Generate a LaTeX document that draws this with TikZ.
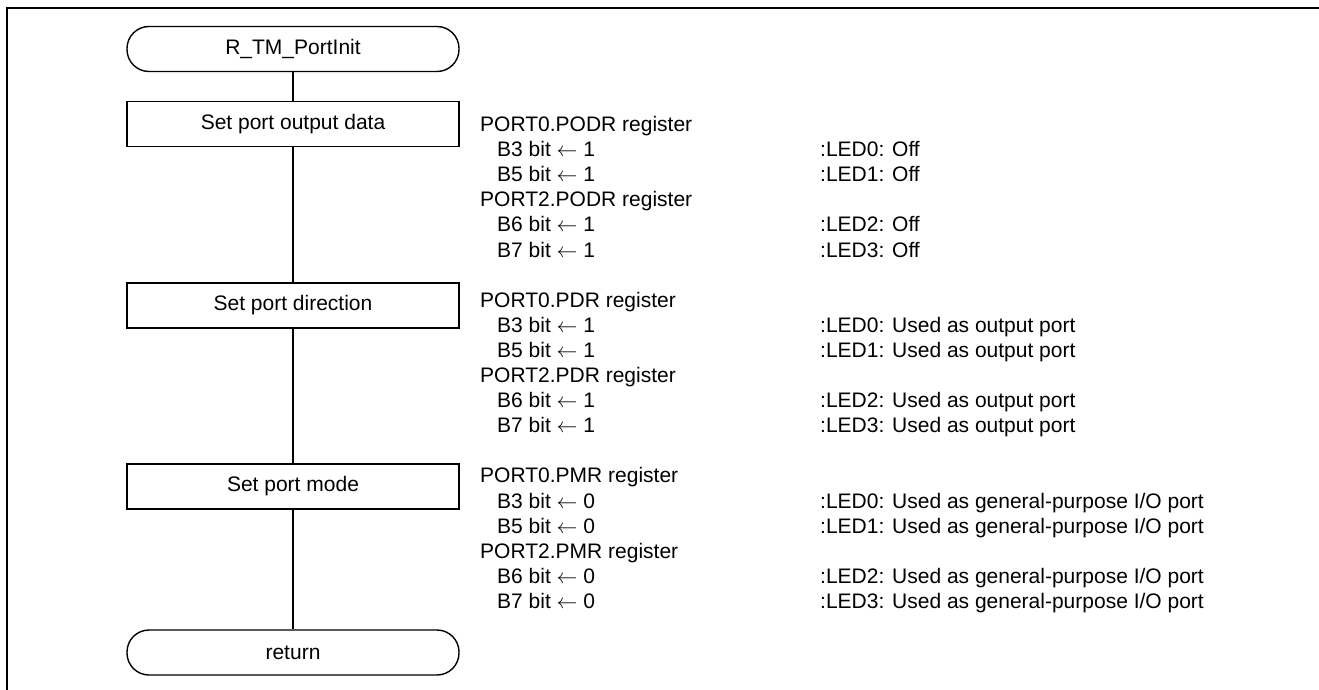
\documentclass[tikz,border=0pt]{standalone}
\usepackage{fontspec}
\setmainfont{Liberation Sans}
\begin{document}
\begin{tikzpicture}[x=1pt,y=-1pt,
  font=\fontsize{21}{25}\selectfont,
  term/.style={draw, line width=1.4pt, rounded corners=22pt, minimum width=332pt, minimum height=45pt, inner sep=0pt},
  proc/.style={draw, line width=1.4pt, minimum width=332pt, minimum height=45pt, inner sep=0pt},
  txt/.style={anchor=base west, inner sep=0pt},
  conn/.style={line width=1.4pt}]
\useasboundingbox (0,0) rectangle (1319,690);
\draw[line width=2.2pt] (7,690) -- (7,8) -- (1319,8);

\node[term] (start) at (293,49) {R\_TM\_PortInit};
\node[proc] (p1) at (293,124) {Set port output data};
\node[proc] (p2) at (293,305.5) {Set port direction};
\node[proc] (p3) at (293,486.5) {Set port mode};
\node[term] (ret) at (293,652.5) {return};

\draw[conn] (start) -- (p1);
\draw[conn] (p1) -- (p2);
\draw[conn] (p2) -- (p3);
\draw[conn] (p3) -- (ret);

% group 1
\node[txt] (a0) at (480,131.5) {PORT0.PODR register};
\node[txt] (a1) at (497,156.6) {B3 bit $\leftarrow$ 1};
\node[txt] (a2) at (497,181.7) {B5 bit $\leftarrow$ 1};
\node[txt] (a3) at (480,206.8) {PORT2.PODR register};
\node[txt] (a4) at (497,231.9) {B6 bit $\leftarrow$ 1};
\node[txt] (a5) at (497,257) {B7 bit $\leftarrow$ 1};
\node[txt] (ac1) at (820,156.6) {:LED0: Off};
\node[txt] (ac2) at (820,181.7) {:LED1: Off};
\node[txt] (ac4) at (820,231.9) {:LED2: Off};
\node[txt] (ac5) at (820,257) {:LED3: Off};

% group 2
\node[txt] (b0) at (480,307.2) {PORT0.PDR register};
\node[txt] (b1) at (497,332.3) {B3 bit $\leftarrow$ 1};
\node[txt] (b2) at (497,357.4) {B5 bit $\leftarrow$ 1};
\node[txt] (b3) at (480,382.5) {PORT2.PDR register};
\node[txt] (b4) at (497,407.6) {B6 bit $\leftarrow$ 1};
\node[txt] (b5) at (497,432.7) {B7 bit $\leftarrow$ 1};
\node[txt] (bc1) at (820,332.3) {:LED0: Used as output port};
\node[txt] (bc2) at (820,357.4) {:LED1: Used as output port};
\node[txt] (bc4) at (820,407.6) {:LED2: Used as output port};
\node[txt] (bc5) at (820,432.7) {:LED3: Used as output port};

% group 3
\node[txt] (c0) at (480,482.9) {PORT0.PMR register};
\node[txt] (c1) at (497,508) {B3 bit $\leftarrow$ 0};
\node[txt] (c2) at (497,533.1) {B5 bit $\leftarrow$ 0};
\node[txt] (c3) at (480,558.2) {PORT2.PMR register};
\node[txt] (c4) at (497,583.3) {B6 bit $\leftarrow$ 0};
\node[txt] (c5) at (497,608.4) {B7 bit $\leftarrow$ 0};
\node[txt] (cc1) at (820,508) {:LED0: Used as general-purpose I/O port};
\node[txt] (cc2) at (820,533.1) {:LED1: Used as general-purpose I/O port};
\node[txt] (cc4) at (820,583.3) {:LED2: Used as general-purpose I/O port};
\node[txt] (cc5) at (820,608.4) {:LED3: Used as general-purpose I/O port};
\end{tikzpicture}
\end{document}
